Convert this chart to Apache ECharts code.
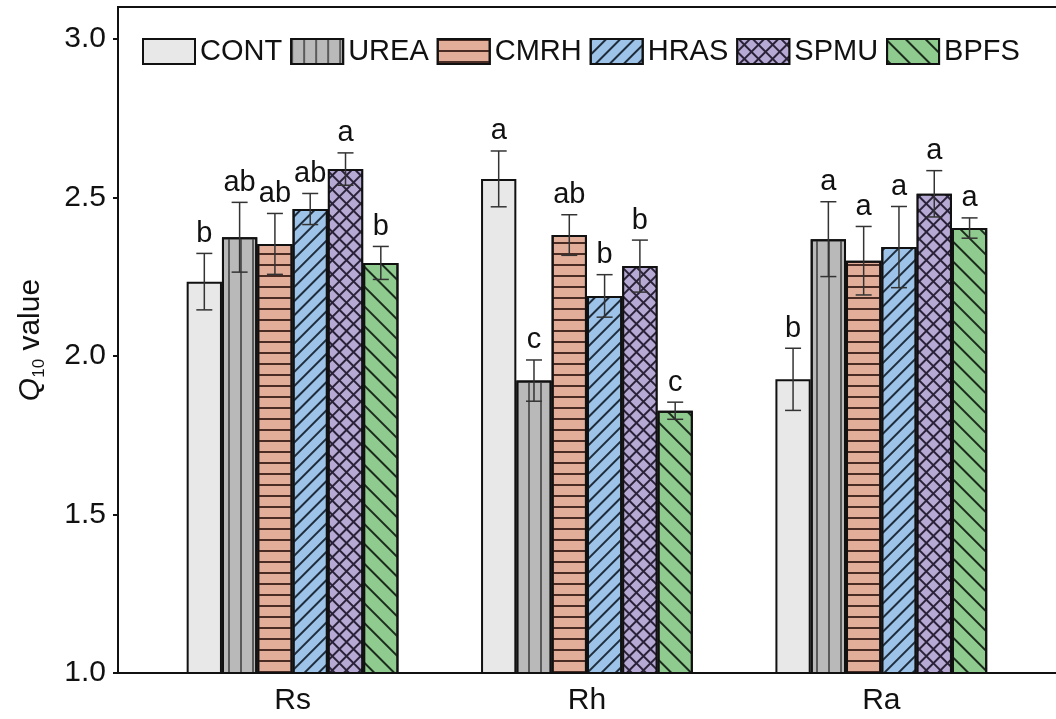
<!DOCTYPE html>
<html>
<head>
<meta charset="utf-8">
<script src="https://cdn.jsdelivr.net/npm/echarts@6/dist/echarts.min.js"></script>
<style>
  html, body { margin: 0; padding: 0; background: #fff; }
  #chart { width: 1056px; height: 719px; }
</style>
</head>
<body>
<div id="chart"></div>
<script>
// flux components on the x axis
const categories = ['Rs', 'Rh', 'Ra']
const treatments = ['CONT', 'UREA', 'CMRH', 'HRAS', 'SPMU', 'BPFS']

// mean Q10 per treatment, in category order
const contMean = [2.234, 2.558, 1.926]
const ureaMean = [2.374, 1.922, 2.368]
const cmrhMean = [2.353, 2.381, 2.300]
const hrasMean = [2.463, 2.189, 2.343]
const spmuMean = [2.589, 2.283, 2.511]
const bpfsMean = [2.293, 1.827, 2.403]

// error bar half-lengths
const contErr = [0.089, 0.088, 0.098]
const ureaErr = [0.110, 0.065, 0.118]
const cmrhErr = [0.096, 0.064, 0.108]
const hrasErr = [0.049, 0.067, 0.128]
const spmuErr = [0.051, 0.082, 0.073]
const bpfsErr = [0.052, 0.027, 0.032]

// significance letters
const contSig = ['b', 'a', 'b']
const ureaSig = ['ab', 'c', 'a']
const cmrhSig = ['ab', 'ab', 'a']
const hrasSig = ['ab', 'b', 'a']
const spmuSig = ['a', 'b', 'a']
const bpfsSig = ['b', 'c', 'a']

const yTicks = [1.0, 1.5, 2.0, 2.5, 3.0]

const means = [contMean, ureaMean, cmrhMean, hrasMean, spmuMean, bpfsMean]
const errs = [contErr, ureaErr, cmrhErr, hrasErr, spmuErr, bpfsErr]
const sigs = [contSig, ureaSig, cmrhSig, hrasSig, spmuSig, bpfsSig]

const BAR_W = 35.3
const FONT = 'Liberation Sans, Arial, sans-serif'

const fills = ['#e8e8e8', '#b9b9b9', '#e3ae99', '#9dc4e8', '#b6a9d3', '#8fcb8f']
const decals = [
  null,
  { symbol: 'rect', symbolSize: 1, dashArrayX: [1.3, 10], dashArrayY: [1, 0], color: '#5a5a5a' },
  { symbol: 'rect', symbolSize: 1, dashArrayX: [1, 0], dashArrayY: [1.6, 8.6], color: '#4a2c24' },
  { symbol: 'rect', symbolSize: 1, dashArrayX: [1, 0], dashArrayY: [1.3, 7.8], rotation: -Math.PI / 4, color: '#1e2c3c' },
  { symbol: 'rect', symbolSize: 1, dashArrayX: [8, 1.3], dashArrayY: [8, 1.3], rotation: Math.PI / 4, color: '#b6a9d3', backgroundColor: '#2a2238' },
  { symbol: 'rect', symbolSize: 1, dashArrayX: [1, 0], dashArrayY: [1.3, 11.5], rotation: Math.PI / 4, color: '#1c2c1c' }
]

const barSeries = treatments.map((name, t) => ({
  name,
  type: 'bar',
  barWidth: BAR_W,
  barGap: '0%',
  data: categories.map((c, i) => [i + 1, means[t][i]]),
  itemStyle: {
    color: fills[t],
    borderColor: '#111',
    borderWidth: 2,
    decal: decals[t] || undefined
  },
  z: 2
}))

const errData = []
treatments.forEach((name, t) => {
  categories.forEach((c, i) => {
    errData.push([i + 1, means[t][i], errs[t][i], t, i])
  })
})

function renderErr(params, api) {
  const x0 = api.value(0)
  const m = api.value(1)
  const e = api.value(2)
  const t = api.value(3)
  const i = api.value(4)
  const cx = api.coord([x0, m])[0] + (t - 2.5) * BAR_W
  const yTop = api.coord([x0, m + e])[1]
  const yBot = api.coord([x0, m - e])[1]
  const cap = 8
  const stroke = { stroke: '#333', lineWidth: 1.5 }
  return {
    type: 'group',
    children: [
      { type: 'line', shape: { x1: cx, y1: yTop, x2: cx, y2: yBot }, style: stroke },
      { type: 'line', shape: { x1: cx - cap, y1: yTop, x2: cx + cap, y2: yTop }, style: stroke },
      { type: 'line', shape: { x1: cx - cap, y1: yBot, x2: cx + cap, y2: yBot }, style: stroke },
      {
        type: 'text',
        x: cx,
        y: yTop - 5,
        style: {
          text: sigs[t][i],
          fill: '#111',
          font: '29px ' + FONT,
          textAlign: 'center',
          textVerticalAlign: 'bottom'
        }
      }
    ]
  }
}

const chart = echarts.init(document.getElementById('chart'))

chart.setOption({
  animation: false,
  textStyle: { fontFamily: FONT },
  grid: {
    left: 118,
    right: -4,
    top: 7,
    bottom: 46,
    outerBoundsMode: 'none',
    show: true,
    borderColor: '#111',
    borderWidth: 2
  },
  legend: {
    data: treatments,
    left: 137,
    top: 32,
    itemWidth: 52,
    itemHeight: 25,
    itemGap: 8,
    icon: 'rect',
    textStyle: { fontSize: 29, color: '#111', fontFamily: FONT }
  },
  xAxis: {
    type: 'value',
    min: 0.407,
    max: 3.607,
    splitLine: { show: false },
    axisTick: { show: false },
    axisLine: { lineStyle: { color: '#111', width: 2 } },
    axisLabel: {
      customValues: [1, 2, 3],
      formatter: (v) => categories[Math.round(v) - 1] || '',
      fontSize: 30,
      color: '#111',
      margin: 13
    }
  },
  yAxis: {
    type: 'value',
    min: 1.0,
    max: 3.1,
    interval: 0.5,
    splitLine: { show: false },
    axisLine: { show: true, lineStyle: { color: '#111', width: 2 } },
    axisTick: { show: true, customValues: yTicks, length: 5, lineStyle: { color: '#111', width: 2 } },
    axisLabel: {
      customValues: yTicks,
      formatter: (v) => v.toFixed(1),
      fontSize: 30,
      color: '#111',
      margin: 12
    },
    name: '{q|Q}{sub|10}{v| value}',
    nameLocation: 'middle',
    nameRotate: 90,
    nameGap: 70,
    nameTextStyle: {
      rich: {
        q: { fontSize: 30, fontStyle: 'italic', color: '#111', lineHeight: 34, fontFamily: FONT },
        sub: { fontSize: 17, color: '#111', lineHeight: 18, verticalAlign: 'bottom', fontFamily: FONT },
        v: { fontSize: 30, color: '#111', lineHeight: 34, fontFamily: FONT }
      }
    }
  },
  series: [
    ...barSeries,
    {
      type: 'custom',
      renderItem: renderErr,
      data: errData,
      z: 5,
      silent: true
    }
  ]
})

window.addEventListener('resize', () => chart.resize())
</script>
</body>
</html>
